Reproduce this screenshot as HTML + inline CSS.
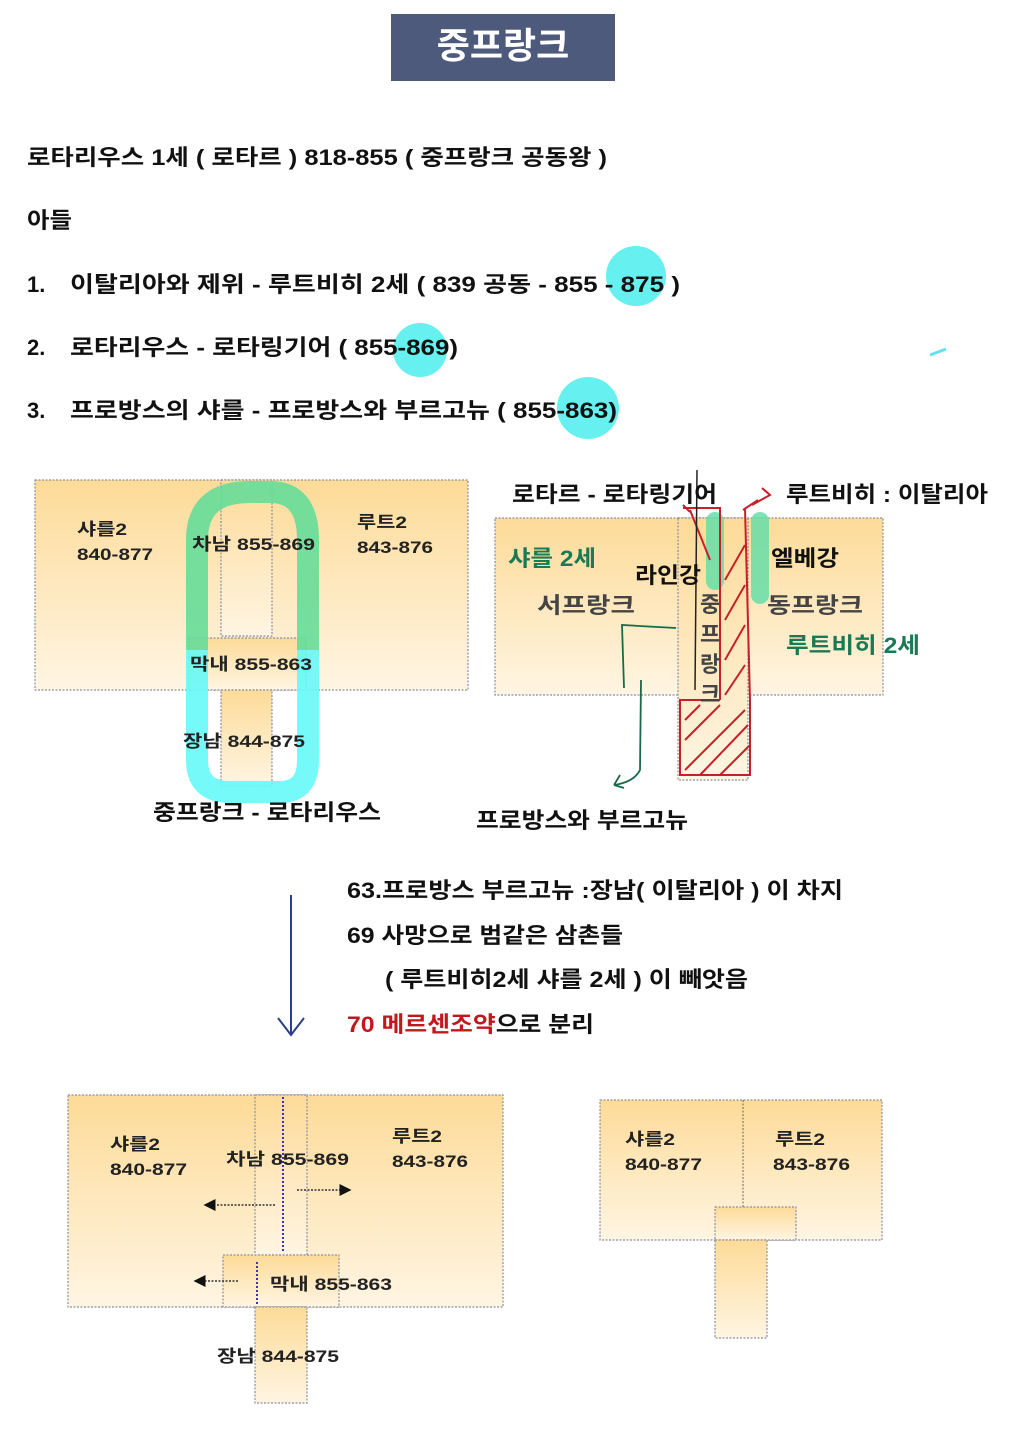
<!DOCTYPE html>
<html><head><meta charset="utf-8"><style>
body{margin:0;background:#fff;}
svg{display:block;font-family:"Liberation Sans","Noto Sans CJK KR",sans-serif;}
.t{font-size:22px;fill:#111;font-weight:bold;}
.b{font-size:17px;font-weight:bold;fill:#222;}
.box{stroke:#8a8fa0;stroke-width:1.2;stroke-dasharray:2 1.5;}
</style></head><body>
<svg width="1018" height="1440" viewBox="0 0 1018 1440" xmlns="http://www.w3.org/2000/svg">
<defs>
<linearGradient id="g" x1="0" y1="0" x2="0" y2="1"><stop offset="0" stop-color="#fddb98"/><stop offset="1" stop-color="#fff5e3"/></linearGradient>
<marker id="ah" markerWidth="8" markerHeight="8" refX="7" refY="4" orient="auto"><path d="M0,0 L8,4 L0,8z" fill="#111"/></marker>
</defs>
<rect x="391" y="14" width="224" height="67" fill="#4d5a7c"/>
<text x="503" y="58" text-anchor="middle" font-size="36" font-weight="bold" fill="#fff">중프랑크</text>

<circle cx="636" cy="276" r="30" fill="#66f0f0"/>
<circle cx="420" cy="350" r="27" fill="#66f0f0"/>
<circle cx="588" cy="408" r="31" fill="#66f0f0"/>
<path d="M930,355 L946,349" stroke="#66e0f0" stroke-width="3"/>
<text class="t" x="27" y="165" textLength="580" lengthAdjust="spacingAndGlyphs">로타리우스 1세 ( 로타르 )  818-855 ( 중프랑크 공동왕  )</text>
<text class="t" x="27" y="228" textLength="45" lengthAdjust="spacingAndGlyphs">아들</text>
<text class="t" x="27" y="292">1.</text><text class="t" x="70" y="292" textLength="610" lengthAdjust="spacingAndGlyphs">이탈리아와 제위  - 루트비히 2세 ( 839 공동 - 855 -  875 )</text>
<text class="t" x="27" y="355">2.</text><text class="t" x="70" y="355" textLength="388" lengthAdjust="spacingAndGlyphs">로타리우스 -  로타링기어 ( 855-869)</text>
<text class="t" x="27" y="418">3.</text><text class="t" x="70" y="418" textLength="547" lengthAdjust="spacingAndGlyphs">프로방스의 샤를 - 프로방스와 부르고뉴   ( 855-863)</text>

<!-- diagram 1 -->
<rect class="box" x="35" y="480" width="433" height="210" fill="url(#g)"/>
<rect class="box" x="221" y="480" width="51" height="156" fill="url(#g)"/>
<rect class="box" x="189" y="638" width="117" height="52" fill="url(#g)"/>
<rect class="box" x="221" y="690" width="51" height="96" fill="url(#g)"/>
<path d="M197,650 L197,540 Q197,492 250,492 L270,492 Q308,492 308,540 L308,650" fill="none" stroke="#66dd99" stroke-width="22" opacity="0.9"/>
<path d="M197,650 L197,760 Q197,792 230,792 L280,792 Q308,792 308,760 L308,650" fill="none" stroke="#66f8f8" stroke-width="22" opacity="0.9"/>
<text class="b" x="77" y="535" textLength="50" lengthAdjust="spacingAndGlyphs">샤를2</text><text class="b" x="77" y="560" textLength="76" lengthAdjust="spacingAndGlyphs">840-877</text>
<text class="b" x="192" y="550" textLength="123" lengthAdjust="spacingAndGlyphs">차남 855-869</text>
<text class="b" x="357" y="528" textLength="50" lengthAdjust="spacingAndGlyphs">루트2</text><text class="b" x="357" y="553" textLength="76" lengthAdjust="spacingAndGlyphs">843-876</text>
<text class="b" x="190" y="670" textLength="122" lengthAdjust="spacingAndGlyphs">막내 855-863</text>
<text class="b" x="183" y="747" textLength="122" lengthAdjust="spacingAndGlyphs">장남 844-875</text>
<text class="t" x="153" y="820" textLength="228" lengthAdjust="spacingAndGlyphs">중프랑크 - 로타리우스</text>

<!-- diagram 2 -->
<rect class="box" x="495" y="518" width="388" height="177" fill="url(#g)"/>
<rect class="box" x="678" y="518" width="70" height="262" fill="url(#g)"/>
<rect x="706" y="512" width="18" height="78" rx="9" fill="#66dda8" opacity="0.85"/>
<rect x="751" y="512" width="18" height="92" rx="9" fill="#66dda8" opacity="0.85"/>
<g stroke="#c8202a" stroke-width="2" fill="none">
<path d="M683,508 L720,508 L720,700"/><path d="M745,508 L750,700 L750,775 L680,775 L680,700 L720,700"/>
<path d="M690,510 L710,560 M683,505 L690,512 M743,510 L758,500 M752,505 L770,495 L762,488"/>
<path d="M725,580 L745,545 M725,620 L745,585 M725,660 L745,625 M725,695 L745,665 M685,740 L720,705 M685,770 L745,710 M700,775 L748,725 M720,775 L750,745 M685,720 L700,705"/>
</g>
<path d="M697,470 L695,690" stroke="#222" stroke-width="1.5"/>
<g stroke="#1a6a4a" stroke-width="1.8" fill="none"><path d="M676,628 L622,625 L624,688"/><path d="M641,680 L640,770 Q634,782 614,785 M614,785 L620,775 M614,785 L624,788"/></g>
<text class="t" x="512" y="502" textLength="205" lengthAdjust="spacingAndGlyphs">로타르 - 로타링기어</text>
<text class="t" x="786" y="502" textLength="202" lengthAdjust="spacingAndGlyphs">루트비히 : 이탈리아</text>
<text class="t" x="508" y="566" style="fill:#1a7a55" textLength="88" lengthAdjust="spacingAndGlyphs">샤를 2세</text>
<text class="t" x="635" y="583" textLength="66" lengthAdjust="spacingAndGlyphs">라인강</text>
<text class="t" x="771" y="566" textLength="68" lengthAdjust="spacingAndGlyphs">엘베강</text>
<text class="t" x="537" y="613" style="fill:#444" textLength="98" lengthAdjust="spacingAndGlyphs">서프랑크</text>
<text class="t" x="767" y="613" style="fill:#444" textLength="96" lengthAdjust="spacingAndGlyphs">동프랑크</text>
<text class="t" x="786" y="653" style="fill:#1a7a55" textLength="134" lengthAdjust="spacingAndGlyphs">루트비히 2세</text>
<text class="t" x="700" y="612" style="fill:#444">중</text><text class="t" x="700" y="642" style="fill:#444">프</text><text class="t" x="700" y="672" style="fill:#444">랑</text><text class="t" x="700" y="702" style="fill:#444">크</text>
<text class="t" x="476" y="828" textLength="212" lengthAdjust="spacingAndGlyphs">프로방스와 부르고뉴</text>

<!-- middle text -->
<path d="M291,895 L291,1035 M278,1018 L291,1035 L304,1018" stroke="#2a3f8a" stroke-width="2" fill="none"/>
<text class="t" x="347" y="898" textLength="496" lengthAdjust="spacingAndGlyphs">63.프로방스 부르고뉴  :장남( 이탈리아 ) 이 차지</text>
<text class="t" x="347" y="943" textLength="276" lengthAdjust="spacingAndGlyphs">69 사망으로 범같은 삼촌들</text>
<text class="t" x="385" y="987" textLength="363" lengthAdjust="spacingAndGlyphs">( 루트비히2세 샤를 2세 ) 이 빼앗음</text>
<text class="t" x="347" y="1032" textLength="247" lengthAdjust="spacingAndGlyphs"><tspan style="fill:#c0181c">70 메르센조약</tspan>으로 분리</text>

<!-- diagram 3 -->
<rect class="box" x="68" y="1095" width="435" height="212" fill="url(#g)"/>
<rect class="box" x="255" y="1095" width="52" height="160" fill="url(#g)"/>
<rect class="box" x="223" y="1255" width="116" height="52" fill="url(#g)"/>
<rect class="box" x="255" y="1307" width="52" height="96" fill="url(#g)"/>
<path d="M283,1097 L283,1253 M257,1262 L257,1305" stroke="#4030c0" stroke-width="2" stroke-dasharray="2 2"/>
<g stroke="#333" stroke-width="1.5" stroke-dasharray="2 1.5" marker-end="url(#ah)"><path d="M275,1205 L205,1205"/><path d="M297,1190 L350,1190"/><path d="M238,1281 L195,1281"/></g>
<text class="b" x="110" y="1150" textLength="50" lengthAdjust="spacingAndGlyphs">샤를2</text><text class="b" x="110" y="1175" textLength="77" lengthAdjust="spacingAndGlyphs">840-877</text>
<text class="b" x="226" y="1165" textLength="123" lengthAdjust="spacingAndGlyphs">차남 855-869</text>
<text class="b" x="392" y="1142" textLength="50" lengthAdjust="spacingAndGlyphs">루트2</text><text class="b" x="392" y="1167" textLength="76" lengthAdjust="spacingAndGlyphs">843-876</text>
<text class="b" x="270" y="1290" textLength="122" lengthAdjust="spacingAndGlyphs">막내 855-863</text>
<text class="b" x="217" y="1362" textLength="122" lengthAdjust="spacingAndGlyphs">장남 844-875</text>

<rect class="box" x="600" y="1100" width="282" height="140" fill="url(#g)"/>
<path d="M743,1100 L743,1207" stroke="#666" stroke-dasharray="2 1.5"/>
<rect class="box" x="715" y="1207" width="81" height="33" fill="url(#g)"/>
<rect class="box" x="715" y="1240" width="52" height="98" fill="url(#g)"/>
<text class="b" x="625" y="1145" textLength="50" lengthAdjust="spacingAndGlyphs">샤를2</text><text class="b" x="625" y="1170" textLength="77" lengthAdjust="spacingAndGlyphs">840-877</text>
<text class="b" x="775" y="1145" textLength="50" lengthAdjust="spacingAndGlyphs">루트2</text><text class="b" x="773" y="1170" textLength="77" lengthAdjust="spacingAndGlyphs">843-876</text>
</svg>
</body></html>
